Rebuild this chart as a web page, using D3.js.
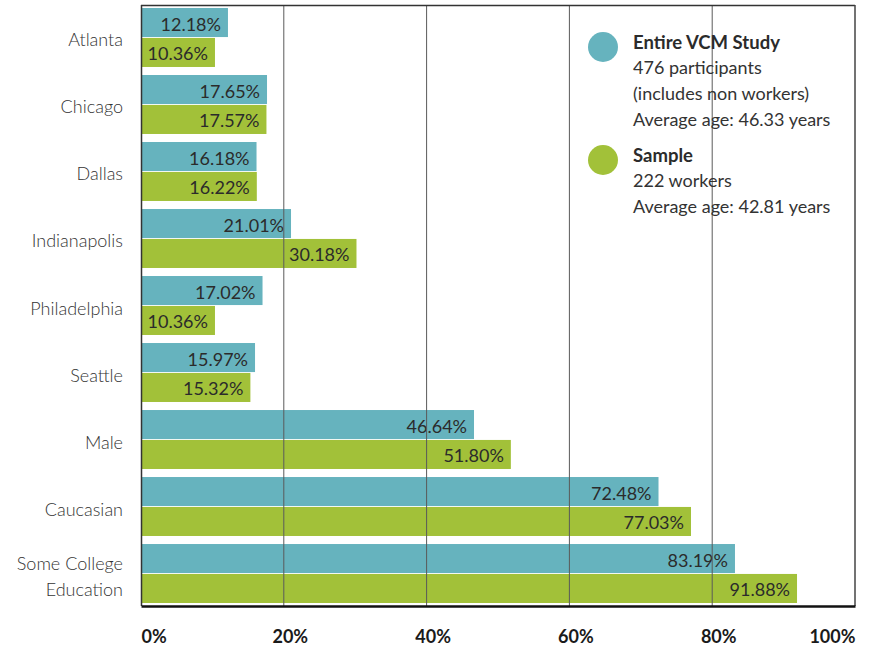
<!DOCTYPE html>
<html>
<head>
<meta charset="utf-8">
<script src="https://cdn.jsdelivr.net/npm/d3@7"></script>
<style>
  body { margin: 0; background: #fff; }
  svg text { font-family: Lato, "Open Sans", sans-serif; }
</style>
</head>
<body>
<div id="plot"></div>
<script>
// chart data
const categories = ["Atlanta", "Chicago", "Dallas", "Indianapolis", "Philadelphia", "Seattle", "Male", "Caucasian", "Some College Education"];
const studyValues = [12.18, 17.65, 16.18, 21.01, 17.02, 15.97, 46.64, 72.48, 83.19];
const sampleValues = [10.36, 17.57, 16.22, 30.18, 10.36, 15.32, 51.80, 77.03, 91.88];
const seriesNames = ["study", "sample"];
const xTicks = [0, 20, 40, 60, 80, 100];
const legendItems = [
  { key: "study", title: "Entire VCM Study", lines: ["476 participants", "(includes non workers)", "Average age: 46.33 years"] },
  { key: "sample", title: "Sample", lines: ["222 workers", "Average age: 42.81 years"] }
];

const width = 874, height = 648;
const margin = { top: 5, right: 19, bottom: 42, left: 141 };

const colors = { study: "#66b3be", sample: "#a2c139" };

const svg = d3.select("#plot").append("svg")
  .attr("width", width)
  .attr("height", height);

const x = d3.scaleLinear()
  .domain([0, 100])
  .range([margin.left, width - margin.right]);

const y = d3.scaleBand()
  .domain(categories)
  .range([margin.top, height - margin.bottom])
  .paddingInner(0.12)
  .paddingOuter(0.045);

const ySub = d3.scaleBand()
  .domain(seriesNames)
  .range([0, y.bandwidth()])
  .paddingInner(0.03);

const data = categories.map((c, i) => ({ cat: c, study: studyValues[i], sample: sampleValues[i] }));

// bars
const groups = svg.append("g").selectAll("g")
  .data(data)
  .join("g")
  .attr("transform", d => `translate(0,${y(d.cat)})`);

groups.selectAll("rect")
  .data(d => seriesNames.map(k => ({ key: k, value: d[k] })))
  .join("rect")
  .attr("x", x(0))
  .attr("y", d => ySub(d.key))
  .attr("width", d => x(d.value) - x(0))
  .attr("height", ySub.bandwidth())
  .attr("fill", d => colors[d.key]);

groups.selectAll("text.val")
  .data(d => seriesNames.map(k => ({ key: k, value: d[k] })))
  .join("text")
  .attr("class", "val")
  .attr("x", d => x(d.value) - 7)
  .attr("y", d => ySub(d.key) + ySub.bandwidth() / 2 + 1)
  .attr("text-anchor", "end")
  .attr("dominant-baseline", "central")
  .style("font-size", "18px")
  .style("font-weight", 400)
  .attr("fill", "#2b2b2b")
  .text(d => d.value.toFixed(2) + "%");

// gridlines (drawn over the bars)
svg.append("g")
  .selectAll("line")
  .data(xTicks.slice(1, -1))
  .join("line")
  .attr("x1", d => x(d)).attr("x2", d => x(d))
  .attr("y1", margin.top).attr("y2", height - margin.bottom)
  .attr("stroke", "#5a5a5a")
  .attr("stroke-width", 1);

// frame
svg.append("line")
  .attr("x1", x(0)).attr("x2", x(100))
  .attr("y1", margin.top + 0.5).attr("y2", margin.top + 0.5)
  .attr("stroke", "#333").attr("stroke-width", 1.5);
svg.append("line")
  .attr("x1", x(0) + 0.5).attr("x2", x(0) + 0.5)
  .attr("y1", margin.top).attr("y2", height - margin.bottom)
  .attr("stroke", "#333").attr("stroke-width", 1.5);
svg.append("line")
  .attr("x1", x(100)).attr("x2", x(100))
  .attr("y1", margin.top).attr("y2", height - margin.bottom)
  .attr("stroke", "#444").attr("stroke-width", 1.5);

// x axis
const xAxis = svg.append("g")
  .attr("transform", `translate(0,${height - margin.bottom})`)
  .call(d3.axisBottom(x).tickValues(xTicks).tickSize(0).tickPadding(0).tickFormat(d => d + "%"));
xAxis.select(".domain").attr("stroke", "#111").attr("stroke-width", 2.5);
xAxis.selectAll(".tick text")
  .attr("y", 37)
  .attr("dy", 0)
  .attr("fill", "#1a1a1a")
  .style("font-size", "18px")
  .style("font-weight", 700)
  .attr("text-anchor", d => d === 0 ? "start" : d === 100 ? "end" : "middle")
  .attr("dx", d => d === 0 ? 0 : d === 100 ? 0 : 6);

// category labels
const catLabels = svg.append("g").selectAll("text")
  .data(categories)
  .join("text")
  .attr("x", margin.left - 18)
  .attr("y", d => y(d) + y.bandwidth() / 2 + 3)
  .attr("text-anchor", "end")
  .attr("fill", "#333")
  .style("font-size", "18px")
  .style("font-weight", 300);

catLabels.each(function(d) {
  const t = d3.select(this);
  const parts = d === "Some College Education" ? ["Some College", "Education"] : [d];
  const off = -(parts.length - 1) * 13;
  parts.forEach((p, i) => {
    t.append("tspan")
      .attr("x", margin.left - 18)
      .attr("y", y(d) + y.bandwidth() / 2 + 2 + off + i * 26)
      .attr("dominant-baseline", "central")
      .text(p);
  });
});

// legend
const legend = svg.append("g").attr("transform", "translate(603,47)");
legendItems.forEach((item, i) => {
  const g = legend.append("g").attr("transform", `translate(0,${i * 113})`);
  g.append("circle")
    .attr("r", 15)
    .attr("fill", colors[item.key]);
  g.append("text")
    .attr("x", 30)
    .attr("y", 2)
    .attr("fill", "#2b2b2b")
    .style("font-size", "18.5px")
    .style("font-weight", 700)
    .text(item.title);
  item.lines.forEach((l, j) => {
    g.append("text")
      .attr("x", 30)
      .attr("y", 1 + (j + 1) * 26)
      .attr("fill", "#333")
      .style("font-size", "18px")
      .style("font-weight", 400)
      .text(l);
  });
});
</script>
</body>
</html>
